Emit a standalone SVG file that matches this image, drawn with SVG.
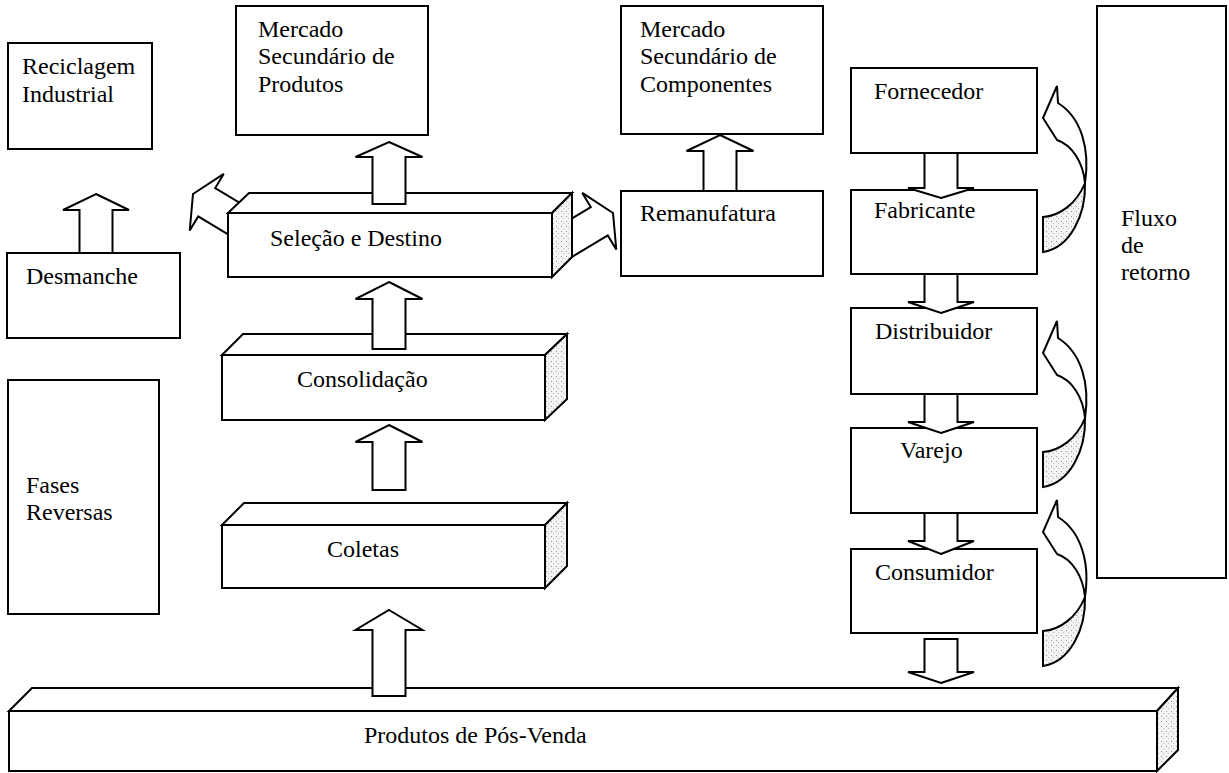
<svg xmlns="http://www.w3.org/2000/svg" width="1229" height="773" viewBox="0 0 1229 773">
<style>
.bx{fill:#fff;stroke:#000;stroke-width:2}
.sd{fill:url(#stip);stroke:#000;stroke-width:2;stroke-linejoin:miter}
.ar{fill:#fff;stroke:#000;stroke-width:2;stroke-linejoin:miter}
text{font-family:"Liberation Serif","Times New Roman","DejaVu Serif",serif;font-size:24px;fill:#000}
</style>
<defs>
<pattern id="stip" width="5" height="5" patternUnits="userSpaceOnUse">
<rect width="5" height="5" fill="#f3f3f3"/>
<rect x="1" y="1" width="1" height="1" fill="#999"/>
<rect x="3" y="3" width="1" height="1" fill="#bbb"/>
</pattern>
<g id="curv">
<path class="ar" d="M1057,86 L1043,118 L1057,140 C1072,145 1083,162 1085,183 C1090,150 1082,118 1058,103 Z"/>
<path class="sd" d="M1085,183 C1086,215 1070,248 1043,252 L1043,217 C1060,216 1077,203 1085,183 Z"/>
</g>
</defs>
<rect width="1229" height="773" fill="#fff"/>

<g id="side-arrows">
<polygon class="ar" transform="translate(193,194) rotate(31)" points="0,0 16,-33 16,-16.5 60,-16.5 60,16.5 16,16.5 16,33"/>
<polygon class="ar" transform="translate(613,213) rotate(-31)" points="0,0 -16,-33 -16,-16.5 -65,-16.5 -65,16.5 -16,16.5 -16,33"/>
</g>

<g id="reciclagem"><rect class="bx" x="8" y="43" width="144" height="106"/><text x="22" y="74">Reciclagem</text><text x="22" y="102">Industrial</text></g>
<g id="mercado-produtos"><rect class="bx" x="236" y="6" width="192" height="129"/><text x="258" y="37">Mercado</text><text x="258" y="64">Secundário de</text><text x="258" y="92">Produtos</text></g>
<g id="mercado-componentes"><rect class="bx" x="621" y="6" width="202" height="128"/><text x="640" y="37">Mercado</text><text x="640" y="64">Secundário de</text><text x="640" y="92">Componentes</text></g>
<g id="remanufatura"><rect class="bx" x="621" y="191" width="202" height="85"/><text x="640" y="221">Remanufatura</text></g>
<g id="desmanche"><rect class="bx" x="7" y="253" width="173" height="85"/><text x="26" y="284">Desmanche</text></g>
<g id="fases-reversas"><rect class="bx" x="8" y="380" width="151" height="234"/><text x="26" y="493">Fases</text><text x="26" y="520">Reversas</text></g>

<g id="selecao">
<polygon class="bx" points="228,213 249,193 572,193 552,213"/>
<polygon class="sd" points="552,213 572,193 572,257 552,277"/>
<rect class="bx" x="228" y="213" width="324" height="64"/>
<text x="270" y="246">Seleção e Destino</text>
</g>
<g id="consolidacao">
<polygon class="bx" points="222,355 243,334 567,334 545,355"/>
<polygon class="sd" points="545,355 567,334 567,399 545,420"/>
<rect class="bx" x="222" y="355" width="323" height="65"/>
<text x="297" y="387">Consolidação</text>
</g>
<g id="coletas">
<polygon class="bx" points="222,525 244,503 567,503 545,525"/>
<polygon class="sd" points="545,525 567,503 567,566 545,588"/>
<rect class="bx" x="222" y="525" width="323" height="63"/>
<text x="327" y="557">Coletas</text>
</g>
<g id="produtos-pos-venda">
<polygon class="bx" points="9,711 32,688 1178,688 1157,711"/>
<polygon class="sd" points="1157,711 1178,688 1178,750 1157,771"/>
<rect class="bx" x="9" y="711" width="1148" height="60"/>
<text x="364" y="743">Produtos de Pós-Venda</text>
</g>

<g id="fornecedor"><rect class="bx" x="851" y="68" width="186" height="85"/><text x="874" y="99">Fornecedor</text></g>
<g id="fabricante"><rect class="bx" x="851" y="190" width="186" height="84"/><text x="874" y="218">Fabricante</text></g>
<g id="distribuidor"><rect class="bx" x="851" y="308" width="186" height="86"/><text x="875" y="339">Distribuidor</text></g>
<g id="varejo"><rect class="bx" x="851" y="428" width="186" height="85"/><text x="900" y="458">Varejo</text></g>
<g id="consumidor"><rect class="bx" x="851" y="549" width="186" height="84"/><text x="875" y="580">Consumidor</text></g>
<g id="fluxo-retorno"><rect class="bx" x="1097" y="6" width="129" height="572"/><text x="1121" y="226">Fluxo</text><text x="1121" y="253">de</text><text x="1121" y="280">retorno</text></g>

<g id="connectors">
<polygon class="ar" points="96,194 129,210 112.5,210 112.5,253 79.5,253 79.5,210 63,210"/>
<polygon class="ar" points="389,142 422.5,157 405.5,157 405.5,204 372.5,204 372.5,157 355.5,157"/>
<polygon class="ar" points="389,282 422.5,299 405.5,299 405.5,349 372.5,349 372.5,299 355.5,299"/>
<polygon class="ar" points="389,425 422.5,442 405.5,442 405.5,490 372.5,490 372.5,442 355.5,442"/>
<polygon class="ar" points="389,610 422.5,630 405.5,630 405.5,696 372.5,696 372.5,630 355.5,630"/>
<polygon class="ar" points="720,135 753.5,151 736.5,151 736.5,191 703.5,191 703.5,151 686.5,151"/>
<polygon class="ar" points="941,198 974,188 957.5,188 957.5,153 924.5,153 924.5,188 908,188"/>
<polygon class="ar" points="941,313 974,302 957.5,302 957.5,274 924.5,274 924.5,302 908,302"/>
<polygon class="ar" points="941,433 974,422 957.5,422 957.5,394 924.5,394 924.5,422 908,422"/>
<polygon class="ar" points="941,554 974,541 957.5,541 957.5,513 924.5,513 924.5,541 908,541"/>
<polygon class="ar" points="941,683 974,672 957.5,672 957.5,639 924.5,639 924.5,672 908,672"/>
<use href="#curv"/>
<use href="#curv" y="235"/>
<use href="#curv" y="414"/>
</g>
</svg>
